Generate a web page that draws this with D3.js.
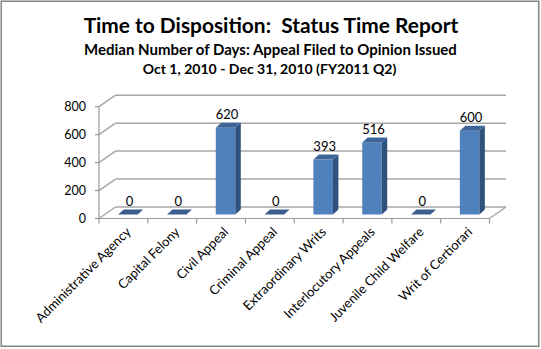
<!DOCTYPE html>
<html>
<head>
<meta charset="utf-8">
<script src="https://cdn.jsdelivr.net/npm/d3@7"></script>
<style>
  html, body { margin: 0; padding: 0; background: #fff; }
  svg { display: block; }
  text { font-family: Lato, "Open Sans", "DejaVu Sans", sans-serif; white-space: pre; }
</style>
</head>
<body>
<svg id="chart" width="541" height="349"></svg>
<script>
// ---- data ----
const categories = ["Administrative Agency", "Capital Felony", "Civil Appeal", "Criminal Appeal",
  "Extraordinary Writs", "Interlocutory Appeals", "Juvenile Child Welfare", "Writ of Certiorari"];
const values = [0, 0, 620, 0, 393, 516, 0, 600];
const yTicks = [0, 200, 400, 600, 800];
const titleLines = [
  "Time to Disposition:  Status Time Report",
  "Median Number of Days: Appeal Filed to Opinion Issued",
  "Oct 1, 2010 - Dec 31, 2010 (FY2011 Q2)"
];

// ---- layout ----
const svg = d3.select("#chart");
const x0 = 99, x1 = 489.5, yBase = 218.5;
const wallDx = 16.5, wallDy = -11.5;
const barDx = 5.5, barDy = -5;
const gridColor = "#a6a6a6";

svg.append("rect").attr("x", 1.25).attr("y", 1.25).attr("width", 537.5).attr("height", 345)
  .attr("fill", "#fff").attr("stroke", "#888").attr("stroke-width", 1.6);

// titles, fitted to measured widths
const titleSpec = [
  { size: 19, y: 33, w: 375, cx: 271 },
  { size: 14.5, y: 55, w: 373, cx: 270.5 },
  { size: 14, y: 73.5, w: 254, cx: 269.5 }
];
titleLines.forEach((t, i) => {
  const s = titleSpec[i];
  const el = svg.append("text").attr("x", s.cx).attr("y", s.y).attr("text-anchor", "middle")
    .attr("xml:space", "preserve")
    .attr("font-weight", "bold").attr("font-size", s.size).attr("fill", "#000").text(t);
  const len = el.node().getComputedTextLength();
  el.attr("font-size", (s.size * s.w / len).toFixed(2));
});

const xScale = d3.scaleBand().domain(categories).range([x0, x1]).padding(0);
const yFront = d3.scaleLinear().domain([0, 800]).range([yBase, 106.7]);
const yBack = d3.scaleLinear().domain([0, 800]).range([yBase + wallDy, 106.7 + wallDy]);
const barBase = 214.5;
const yBar = d3.scaleLinear().domain([0, 800]).range([barBase, barBase - (yBase - 106.7)]);

const g = svg.append("g");
// back wall horizontals + side wall diagonals
yTicks.forEach(v => {
  g.append("line").attr("x1", x0 + wallDx).attr("x2", x1 + wallDx)
    .attr("y1", yBack(v)).attr("y2", yBack(v)).attr("stroke", gridColor).attr("stroke-width", 1.5);
  g.append("line").attr("x1", x0).attr("x2", x0 + wallDx)
    .attr("y1", yFront(v)).attr("y2", yBack(v)).attr("stroke", gridColor).attr("stroke-width", 1.5);
});
// floor right edge
g.append("line").attr("x1", x1).attr("y1", yBase).attr("x2", x1 + wallDx).attr("y2", yBase + wallDy)
  .attr("stroke", gridColor).attr("stroke-width", 1.5);

// y axis
g.append("line").attr("x1", x0).attr("x2", x0).attr("y1", yFront(800)).attr("y2", yBase)
  .attr("stroke", "#999").attr("stroke-width", 1.2);
yTicks.forEach(v => {
  g.append("line").attr("x1", x0 - 4).attr("x2", x0).attr("y1", yFront(v)).attr("y2", yFront(v))
    .attr("stroke", "#999").attr("stroke-width", 1.2);
  g.append("text").attr("x", 86).attr("y", yFront(v)).attr("dy", "0.35em").attr("text-anchor", "end")
    .attr("font-size", 12.5).attr("fill", "#000").text(v);
});

// x axis
g.append("line").attr("x1", x0).attr("x2", x1).attr("y1", yBase).attr("y2", yBase)
  .attr("stroke", "#999").attr("stroke-width", 1.2);
const edges = categories.map(c => xScale(c)).concat([x1]);
edges.forEach(e => {
  g.append("line").attr("x1", e).attr("x2", e).attr("y1", yBase).attr("y2", yBase + 5)
    .attr("stroke", "#999").attr("stroke-width", 1.2);
});

// bars
const bw = 19.5;
const bars = g.append("g");
categories.forEach((c, i) => {
  const v = values[i];
  const cx = xScale(c) + xScale.bandwidth() / 2 + 4.5;
  const left = cx - bw / 2, right = cx + bw / 2;
  const top = yBar(v), bot = yBar(0);
  if (v > 0) {
    bars.append("rect").attr("x", left).attr("y", top).attr("width", bw).attr("height", bot - top)
      .attr("fill", "#4f81bd");
    bars.append("path").attr("d", `M${right},${top}L${right + barDx},${top + barDy}L${right + barDx},${bot + barDy}L${right},${bot}Z`)
      .attr("fill", "#30507d");
  }
  bars.append("path").attr("d", `M${left},${top}L${left + barDx},${top + barDy}L${right + barDx},${top + barDy}L${right},${top}Z`)
    .attr("fill", v > 0 ? "#3d6599" : "#3a5f8f");
  g.append("text").attr("x", cx + 1.5).attr("y", top - 8.5).attr("text-anchor", "middle")
    .attr("font-size", 13).attr("fill", "#000").text(v);
});

// x labels
categories.forEach(c => {
  const cx = xScale(c) + xScale.bandwidth() / 2 + 5;
  g.append("text").attr("transform", `translate(${cx},${yBase + 11}) rotate(-45)`)
    .attr("text-anchor", "end").attr("dy", "0.35em").attr("font-size", 13).attr("fill", "#000").text(c);
});
</script>
</body>
</html>
